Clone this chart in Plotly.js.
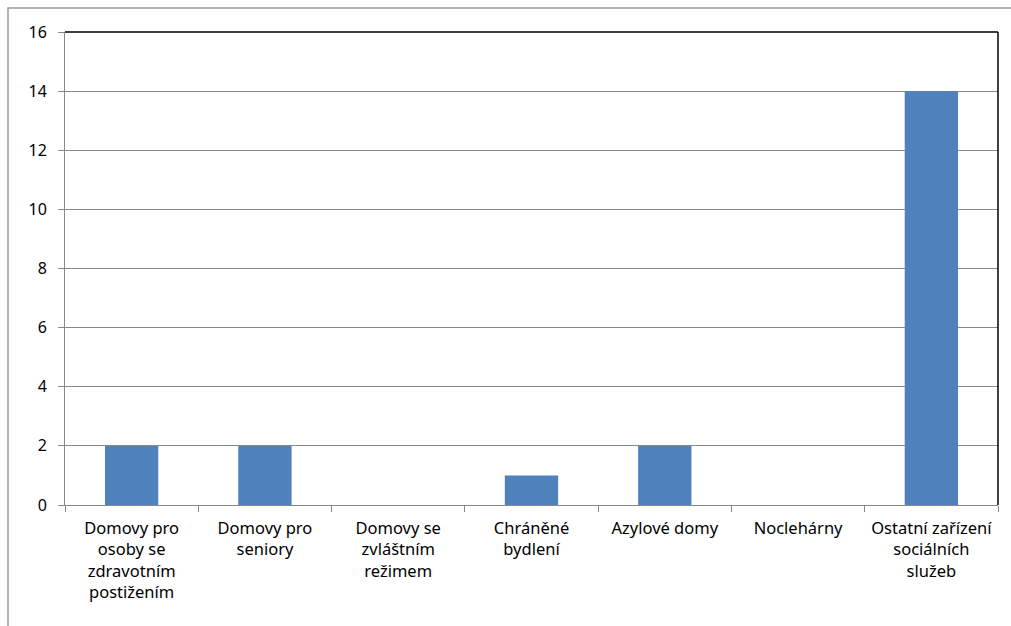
<!DOCTYPE html>
<html>
<head>
<meta charset="utf-8">
<script src="https://cdn.plot.ly/plotly-3.0.1.min.js"></script>
<style>html,body{margin:0;padding:0;background:#fff;}#chart{width:1011px;height:626px;}</style>
</head>
<body>
<div id="chart"></div>
<script>
const categories = [
  "Domovy pro<br>osoby se<br>zdravotním<br>postižením",
  "Domovy pro<br>seniory",
  "Domovy se<br>zvláštním<br>režimem",
  "Chráněné<br>bydlení",
  "Azylové domy",
  "Noclehárny",
  "Ostatní zařízení<br>sociálních<br>služeb"
];
const values = [2, 2, 0, 1, 2, 0, 14];
const yTicks = [0, 2, 4, 6, 8, 10, 12, 14, 16];

const L = 65, R = 998, T = 32, B = 505, W = 1011, H = 626;
const pw = R - L, ph = B - T;
const px = x => (x - L) / pw;
const py = y => (B - y) / ph;

const data = [{
  type: 'bar',
  x: categories,
  y: values,
  marker: {color: '#4F81BD'},
  width: 0.4,
  hoverinfo: 'x+y'
}];

const layout = {
  width: W, height: H,
  margin: {l: L, r: W - R, t: T, b: H - B},
  paper_bgcolor: '#fff', plot_bgcolor: '#fff',
  font: {family: 'Noto Sans, Liberation Sans, sans-serif', size: 14, color: '#000'},
  showlegend: false,
  xaxis: {
    type: 'category',
    showline: true, linecolor: '#888', linewidth: 1,
    ticks: 'outside', tickson: 'boundaries', ticklen: 6, tickcolor: '#888',
    ticklabelstandoff: 8,
    showgrid: false, zeroline: false,
    tickfont: {size: 16.5, color: '#000'},
    fixedrange: true
  },
  yaxis: {
    range: [0, 16],
    tickvals: yTicks,
    ticktext: yTicks.map(String),
    showline: true, linecolor: '#888', linewidth: 1,
    ticks: 'outside', ticklen: 6, tickcolor: '#888',
    ticklabelstandoff: 8,
    showgrid: true, gridcolor: '#888', gridwidth: 1,
    zeroline: false,
    tickfont: {size: 16, color: '#000'},
    fixedrange: true
  },
  shapes: [
    {type: 'line', xref: 'paper', yref: 'paper', x0: 0, x1: 1, y0: 1, y1: 1, line: {color: '#000', width: 1.5}},
    {type: 'line', xref: 'paper', yref: 'paper', x0: 1, x1: 1, y0: 0, y1: 1, line: {color: '#000', width: 1.5}},
    {type: 'rect', xref: 'paper', yref: 'paper', x0: px(8), x1: px(1030), y0: py(660), y1: py(8), line: {color: '#999', width: 1.5}, fillcolor: 'rgba(0,0,0,0)', layer: 'below'}
  ]
};

Plotly.newPlot('chart', data, layout, {displayModeBar: false, staticPlot: true});
</script>
</body>
</html>
